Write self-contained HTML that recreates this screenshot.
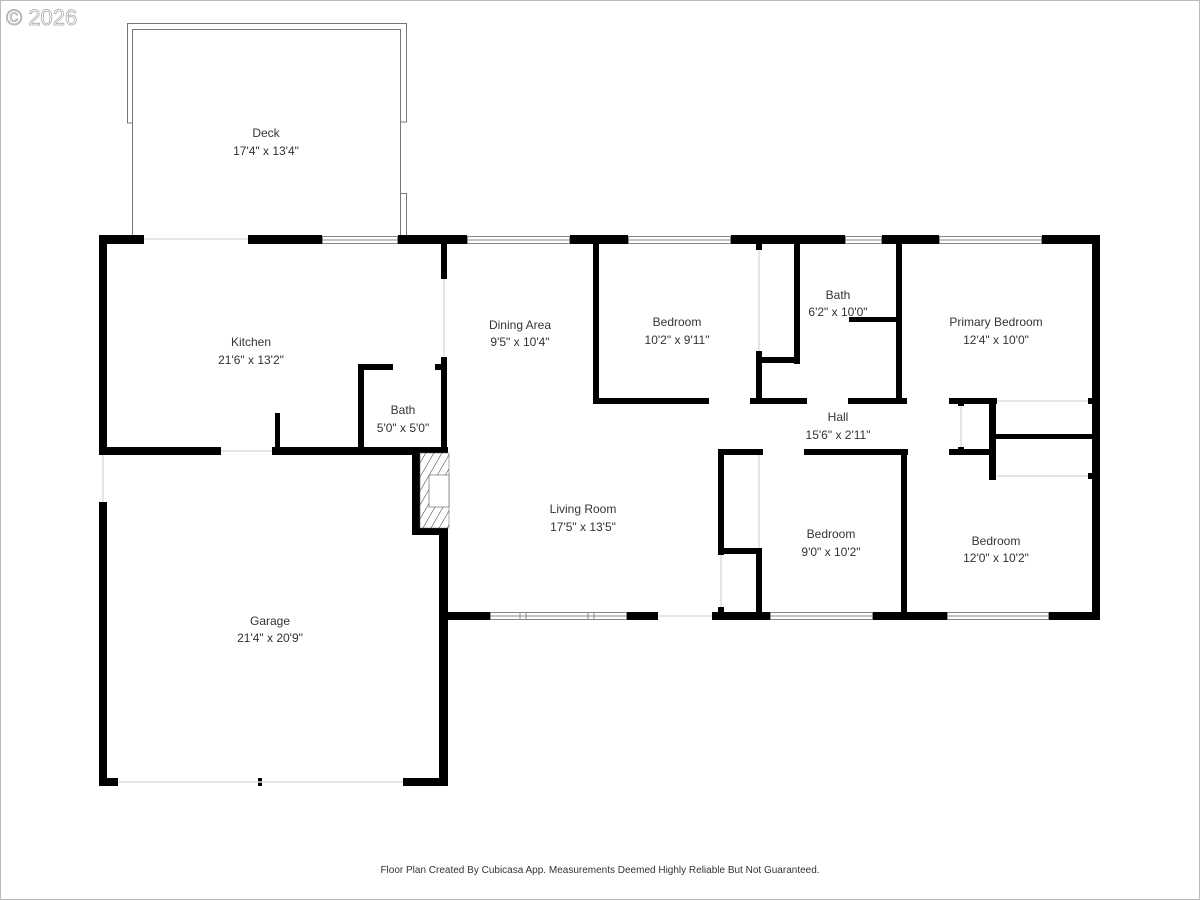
<!DOCTYPE html>
<html><head><meta charset="utf-8"><style>
html,body{margin:0;padding:0;background:#fff;}
svg{display:block;}
text{font-family:"Liberation Sans",sans-serif;fill:#333;font-size:12px;text-anchor:middle;}
</style></head><body>
<svg width="1200" height="900" viewBox="0 0 1200 900" xmlns="http://www.w3.org/2000/svg">
<rect x="0.5" y="0.5" width="1199" height="899" fill="#fff" stroke="#bbb"/>
<text x="6" y="25" style="font-size:22px;text-anchor:start;fill:#fff;stroke:#aaa;stroke-width:0.8">© 2026</text>
<!-- deck -->
<g fill="none" stroke="#777" stroke-width="1">
<path d="M127.5,123 V23.5 H406.5 V122 H400.5 V29.5 H132.5 V123 Z"/>
<path d="M132.5,123 V236 M400.5,122 V236 M400.5,193.5 H406.5 V236"/>
</g>
<g fill="#000">
<!-- top wall -->
<rect x="99" y="235" width="45" height="9"/>
<rect x="248" y="235" width="74" height="9"/>
<rect x="398" y="235" width="69" height="9"/>
<rect x="570" y="235" width="58" height="9"/>
<rect x="731" y="235" width="114" height="9"/>
<rect x="882" y="235" width="57" height="9"/>
<rect x="1042" y="235" width="58" height="9"/>
<!-- left/right exterior -->
<rect x="99" y="235" width="8" height="220"/>
<rect x="99" y="502" width="8" height="284"/>
<rect x="1092" y="235" width="8" height="385"/>
<!-- garage bottom -->
<rect x="99" y="778" width="19" height="8"/>
<rect x="258" y="778" width="4" height="8"/>
<rect x="403" y="778" width="45" height="8"/>
<rect x="439" y="535" width="9" height="251"/>
<!-- kitchen/garage wall -->
<rect x="99" y="447" width="122" height="8"/>
<rect x="272" y="447" width="176" height="8"/>
<rect x="275" y="413" width="5" height="36"/>
<!-- kitchen/dining wall -->
<rect x="441" y="243" width="6" height="36"/>
<rect x="441" y="357" width="6" height="95"/>
<!-- small bath -->
<rect x="358" y="364" width="35" height="6"/>
<rect x="435" y="364" width="8" height="6"/>
<rect x="358" y="364" width="6" height="88"/>
<!-- fireplace -->
<rect x="412" y="448" width="36" height="87"/>
<!-- living bottom -->
<rect x="447" y="612" width="43" height="8"/>
<rect x="627" y="612" width="31" height="8"/>
<rect x="712" y="612" width="58" height="8"/>
<rect x="873" y="612" width="74" height="8"/>
<rect x="1049" y="612" width="51" height="8"/>
<!-- bedroom 1 -->
<rect x="593" y="243" width="6" height="161"/>
<rect x="593" y="398" width="116" height="6"/>
<rect x="750" y="398" width="57" height="6"/>
<rect x="848" y="398" width="59" height="6"/>
<rect x="949" y="398" width="48" height="6"/>
<rect x="1088" y="398" width="6" height="6"/>
<rect x="756" y="243" width="6" height="7"/>
<rect x="756" y="351" width="6" height="53"/>
<rect x="756" y="357" width="44" height="6"/>
<rect x="794" y="243" width="6" height="121"/>
<rect x="896" y="243" width="6" height="161"/>
<rect x="849" y="317" width="50" height="5"/>
<!-- hall lower -->
<rect x="718" y="449" width="45" height="6"/>
<rect x="804" y="449" width="104" height="6"/>
<rect x="949" y="449" width="41" height="6"/>
<rect x="718" y="449" width="6" height="106"/>
<rect x="718" y="548" width="44" height="6"/>
<rect x="756" y="548" width="6" height="72"/>
<rect x="718" y="607" width="6" height="13"/>
<rect x="901" y="449" width="6" height="171"/>
<!-- right closets -->
<rect x="989" y="400" width="7" height="80"/>
<rect x="996" y="434" width="96" height="5"/>
<rect x="1088" y="473" width="6" height="6"/>
<rect x="958" y="400" width="6" height="6"/>
<rect x="958" y="447" width="6" height="6"/>
</g>
<!-- fireplace inner -->
<defs><pattern id="h" width="7" height="7" patternUnits="userSpaceOnUse" patternTransform="rotate(30)"><line x1="0" y1="0" x2="0" y2="7" stroke="#333" stroke-width="1"/></pattern></defs>
<rect x="420" y="453" width="29" height="75" fill="#fff"/>
<rect x="420" y="453" width="29" height="75" fill="url(#h)" stroke="#555" stroke-width="0.5"/>
<rect x="429" y="475" width="20" height="32" fill="#fff" stroke="#555" stroke-width="0.6"/>
<!-- windows -->
<g fill="#fff" stroke="#888" stroke-width="1">
<rect x="322.5" y="236.5" width="75" height="7"/>
<rect x="467.5" y="236.5" width="102" height="7"/>
<rect x="628.5" y="236.5" width="102" height="7"/>
<rect x="845.5" y="236.5" width="36" height="7"/>
<rect x="939.5" y="236.5" width="102" height="7"/>
<rect x="490.5" y="612.5" width="136" height="7"/>
<rect x="770.5" y="612.5" width="102" height="7"/>
<rect x="947.5" y="612.5" width="101" height="7"/>
</g>
<g stroke="#888" stroke-width="1">
<line x1="322" y1="240" x2="398" y2="240"/><line x1="467" y1="240" x2="570" y2="240"/>
<line x1="628" y1="240" x2="731" y2="240"/><line x1="845" y1="240" x2="882" y2="240"/>
<line x1="939" y1="240" x2="1042" y2="240"/><line x1="490" y1="616" x2="627" y2="616"/>
<line x1="770" y1="616" x2="873" y2="616"/><line x1="947" y1="616" x2="1049" y2="616"/>
<line x1="520" y1="612" x2="520" y2="620"/><line x1="526" y1="612" x2="526" y2="620"/>
<line x1="588" y1="612" x2="588" y2="620"/><line x1="594" y1="612" x2="594" y2="620"/>
</g>
<!-- faint openings -->
<g stroke="#ddd" stroke-width="1.5" fill="none">
<line x1="144" y1="239" x2="248" y2="239"/><line x1="221" y1="451" x2="272" y2="451"/>
<line x1="118" y1="782" x2="403" y2="782"/><line x1="658" y1="616" x2="712" y2="616"/>
<line x1="103" y1="455" x2="103" y2="502"/><line x1="444" y1="279" x2="444" y2="357"/>
<line x1="997" y1="401" x2="1088" y2="401"/><line x1="997" y1="476" x2="1088" y2="476"/>
<line x1="759" y1="250" x2="759" y2="351"/><line x1="721" y1="555" x2="721" y2="607"/>
<line x1="759" y1="455" x2="759" y2="548"/><line x1="961" y1="406" x2="961" y2="447"/>
</g>
<text x="266" y="137">Deck</text><text x="266" y="155">17'4" x 13'4"</text>
<text x="251" y="346">Kitchen</text><text x="251" y="364">21'6" x 13'2"</text>
<text x="403" y="414">Bath</text><text x="403" y="432">5'0" x 5'0"</text>
<text x="520" y="329">Dining Area</text><text x="520" y="346">9'5" x 10'4"</text>
<text x="583" y="513">Living Room</text><text x="583" y="531">17'5" x 13'5"</text>
<text x="270" y="625">Garage</text><text x="270" y="642">21'4" x 20'9"</text>
<text x="677" y="326">Bedroom</text><text x="677" y="344">10'2" x 9'11"</text>
<text x="838" y="299">Bath</text><text x="838" y="316">6'2" x 10'0"</text>
<text x="996" y="326">Primary Bedroom</text><text x="996" y="344">12'4" x 10'0"</text>
<text x="838" y="421">Hall</text><text x="838" y="439">15'6" x 2'11"</text>
<text x="831" y="538">Bedroom</text><text x="831" y="556">9'0" x 10'2"</text>
<text x="996" y="545">Bedroom</text><text x="996" y="562">12'0" x 10'2"</text>
<text x="600" y="873" style="font-size:10px">Floor Plan Created By Cubicasa App. Measurements Deemed Highly Reliable But Not Guaranteed.</text>
</svg>
</body></html>
